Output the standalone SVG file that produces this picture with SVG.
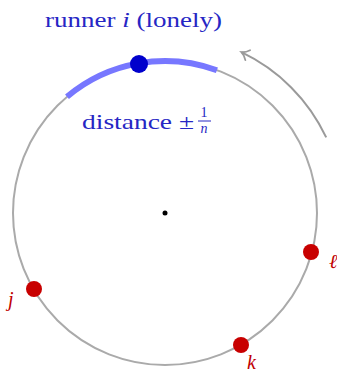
<svg xmlns="http://www.w3.org/2000/svg" width="337" height="373" viewBox="0 0 337 373">
<style>
.lbl{font-family:"Liberation Serif","DejaVu Serif",serif;font-size:22px;fill:#2626c4}
.frac{font-family:"Liberation Serif","DejaVu Serif",serif;font-size:14px;fill:#2626c4}
.var{font-family:"Liberation Serif","DejaVu Serif",serif;font-size:20px;font-style:italic;fill:#c00000}
.red{fill:#c80000}
</style>
<defs>
<marker id="ah" markerWidth="14" markerHeight="14" refX="10" refY="7" orient="auto" markerUnits="userSpaceOnUse">
<path d="M3,1.5 Q6,5.5 10,7 Q6,8.5 3,12.5" fill="none" stroke="#9a9a9a" stroke-width="1.8" stroke-linecap="round"/>
</marker>
</defs>
<g id="track">
<circle cx="165" cy="213" r="152" fill="none" stroke="#aaaaaa" stroke-width="2"/>
<circle cx="165" cy="213" r="2.5" fill="#000"/>
</g>
<g id="connectors">
<path d="M326.2,137.4 A178,178 0 0 0 241.4,52.2" fill="none" stroke="#9a9a9a" stroke-width="2" marker-end="url(#ah)"/>
</g>
<g id="window">
<path d="M67,96.7 A152,152 0 0 1 216.9,70.2" fill="none" stroke="#7777ff" stroke-width="6"/>
</g>
<g id="runner-i">
<circle cx="139" cy="64" r="9" fill="#0000cc"/>
<text class="lbl" x="45" y="27" textLength="177" lengthAdjust="spacingAndGlyphs">runner <tspan font-style="italic">i</tspan> (lonely)</text>
</g>
<g id="distance">
<text class="lbl" x="82" y="129" textLength="112" lengthAdjust="spacingAndGlyphs">distance ±</text>
<text class="frac" x="204" y="117" text-anchor="middle">1</text>
<line x1="198" y1="121" x2="211" y2="121" stroke="#2626c4" stroke-width="1"/>
<text class="frac" x="204" y="133" font-style="italic" text-anchor="middle">n</text>
</g>
<g id="runner-l">
<circle class="red" cx="311" cy="252" r="8"/>
<text class="var" x="329" y="268">ℓ</text>
</g>
<g id="runner-j">
<circle class="red" cx="34" cy="289" r="8"/>
<text class="var" x="8" y="306">j</text>
</g>
<g id="runner-k">
<circle class="red" cx="241" cy="345" r="8"/>
<text class="var" x="247" y="369">k</text>
</g>
</svg>
